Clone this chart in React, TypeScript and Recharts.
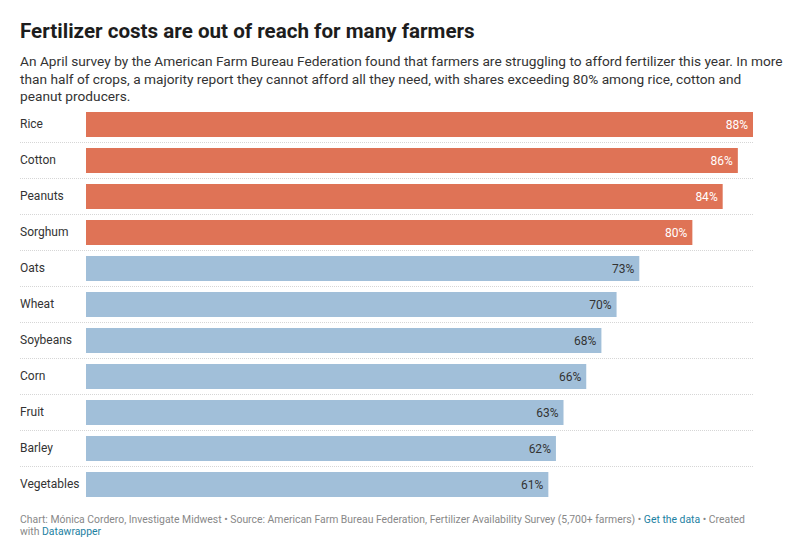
import React from 'react';
import { BarChart, Bar, XAxis, YAxis, LabelList, Cell } from 'recharts';

const crops = ['Rice', 'Cotton', 'Peanuts', 'Sorghum', 'Oats', 'Wheat', 'Soybeans', 'Corn', 'Fruit', 'Barley', 'Vegetables'];
const shares = [88, 86, 84, 80, 73, 70, 68, 66, 63, 62, 61];
const highlighted = ['Rice', 'Cotton', 'Peanuts', 'Sorghum'];

const ORANGE = '#df7356';
const BLUE = '#a1bfd9';
const FONT = 'Roboto, "Noto Sans", sans-serif';

const data = crops.map((crop, i) => ({ crop, share: shares[i] }));

const CropTick = ({ y, payload }: { y?: number; payload?: { value: string } }) => (
  <text x={20} y={y} dy={4} fontSize={12} fill="#333" fontFamily={FONT} textAnchor="start">
    {payload?.value}
  </text>
);

// bar plus the dotted row divider underneath it
const RowBar = (props: any) => {
  const { x, y, width, height, fill, index } = props;
  const lineY = y + height + 5.5;
  return (
    <g>
      <rect x={x} y={y} width={width} height={height} fill={fill} />
      {index < crops.length - 1 && (
        <line x1={20} x2={753} y1={lineY} y2={lineY} stroke="#d6d6d6" strokeDasharray="1 1" />
      )}
    </g>
  );
};

const ValueLabel = (props: any) => {
  const { x, y, width, height, value, index } = props;
  const hot = highlighted.includes(crops[index]);
  return (
    <text
      x={x + width - 5}
      y={y + height / 2}
      dy={4}
      textAnchor="end"
      fontSize={12}
      fontFamily={FONT}
      fill={hot ? '#ffffff' : '#333'}
    >
      {value}%
    </text>
  );
};

export default function App() {
  return (
    <div style={{ position: 'absolute', top: 0, left: 0, width: 800, height: 559, background: '#fff', fontFamily: FONT, overflow: 'hidden' }}>
      <div style={{ position: 'absolute', left: 20, top: 19, fontSize: 20.6, fontWeight: 700, color: '#1d1d1d', whiteSpace: 'nowrap' }}>
        Fertilizer costs are out of reach for many farmers
      </div>
      <div style={{ position: 'absolute', left: 20, top: 53, fontSize: 13.7, lineHeight: '17.5px', color: '#333', whiteSpace: 'nowrap' }}>
        An April survey by the American Farm Bureau Federation found that farmers are struggling to afford fertilizer this year. In more
        <br />
        than half of crops, a majority report they cannot afford all they need, with shares exceeding 80% among rice, cotton and
        <br />
        peanut producers.
      </div>
      <div style={{ position: 'absolute', left: 0, top: 106 }}>
        <BarChart
          layout="vertical"
          width={800}
          height={396}
          data={data}
          margin={{ top: 0, right: 47, bottom: 0, left: 20 }}
          barSize={25}
        >
          <XAxis type="number" domain={[0, 88]} hide />
          <YAxis
            type="category"
            dataKey="crop"
            width={66}
            axisLine={false}
            tickLine={false}
            tick={<CropTick />}
            interval={0}
          />
          <Bar dataKey="share" shape={<RowBar />} isAnimationActive={false}>
            {data.map((d) => (
              <Cell key={d.crop} fill={highlighted.includes(d.crop) ? ORANGE : BLUE} />
            ))}
            <LabelList dataKey="share" content={<ValueLabel />} />
          </Bar>
        </BarChart>
      </div>
      <div style={{ position: 'absolute', left: 20, top: 514, fontSize: 10.4, lineHeight: '12px', color: '#888', whiteSpace: 'nowrap' }}>
        Chart: Mónica Cordero, Investigate Midwest • Source: American Farm Bureau Federation, Fertilizer Availability Survey (5,700+ farmers) •{' '}
        <span style={{ color: '#1d81a2' }}>Get the data</span> • Created
        <br />
        with <span style={{ color: '#1d81a2' }}>Datawrapper</span>
      </div>
    </div>
  );
}
